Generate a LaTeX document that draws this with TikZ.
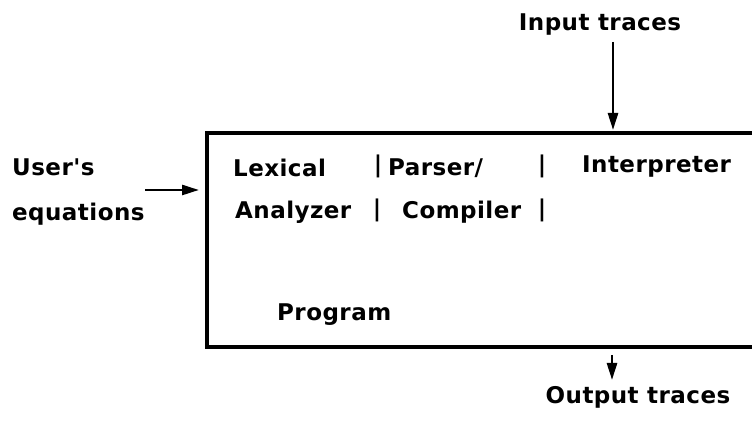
\documentclass[tikz,border=0pt]{standalone}
\usepackage{fontspec}
\newfontfamily\labfont{DejaVu Sans}[LetterSpace=2]
\usetikzlibrary{arrows.meta}
\begin{document}
\begin{tikzpicture}[x=1pt,y=1pt,
  lab/.style={font=\labfont\bfseries\fontsize{23}{45}\selectfont, inner sep=0pt, text=black},
  arr/.style={-{Triangle[length=17pt,width=10pt]}, line width=2.6pt},
  boxline/.style={line width=3.4pt}]
\useasboundingbox (0,0) rectangle (752,422);
% program box (right side runs off the picture)
\coordinate (tr) at (752,289);
\coordinate (tl) at (207,289);
\coordinate (bl) at (207,75);
\coordinate (br) at (752,75);
\draw[boxline] (tr) -- (tl) -- (bl) -- (br);
% texts
\node[lab, anchor=west, align=left] (user) at (12,230) {User's\\equations};
\node[lab] (in) at (600,397) {Input traces};
\node[lab] (out) at (638,25) {Output traces};
\node[lab, anchor=west] (lex) at (233,254) {Lexical};
\node[lab, anchor=west] (ana) at (235,210) {Analyzer};
\node[lab, anchor=west] (par) at (388,254) {Parser/};
\node[lab, anchor=west] (comp) at (402,210) {Compiler};
\node[lab, anchor=west] (interp) at (582,255) {Interpreter};
\node[lab, anchor=west] (prog) at (277,107) {Program};
\node[lab] (b1) at (378,256) {|};
\node[lab] (b2) at (377,212) {|};
\node[lab] (b3) at (542,256) {|};
\node[lab] (b4) at (542,212) {|};
% arrows
\coordinate (inS) at (613,380);
\coordinate (inE) at (613,292);
\coordinate (outS) at (612,67);
\coordinate (outE) at (612,42);
\coordinate (uS) at (145,232);
\coordinate (uE) at (199,232);
\draw[arr] (inS) -- (inE);
\draw[arr] (outS) -- (outE);
\draw[arr] (uS) -- (uE);
\end{tikzpicture}
\end{document}
